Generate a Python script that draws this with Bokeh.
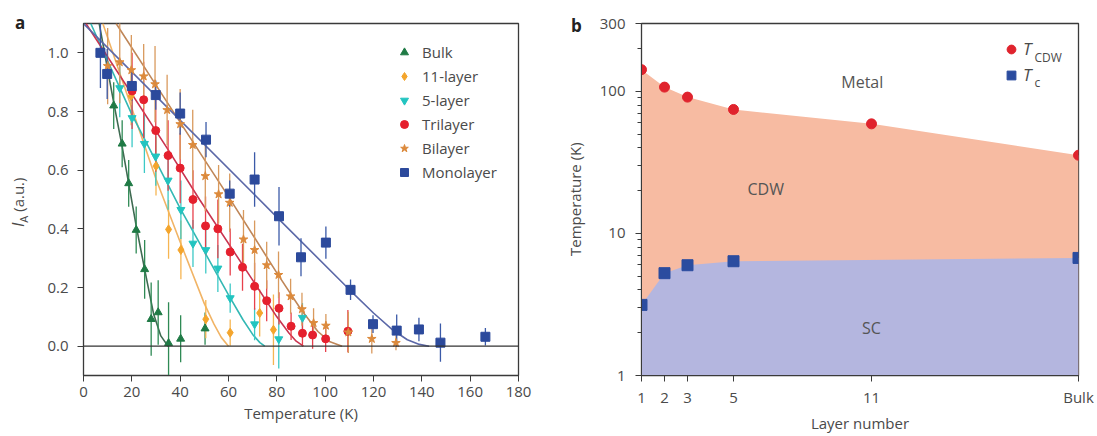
import math
from bokeh.plotting import figure
from bokeh.layouts import row
from bokeh.models import (ColumnDataSource, Span, Label, Legend, LegendItem, Div,
                          FixedTicker, Range1d, PrintfTickFormatter)
from bokeh.embed import file_html
from bokeh.resources import INLINE

# ---------------- Panel a data ----------------
bulk_T = [12.5, 16.0, 18.7, 21.8, 25.3, 28.0, 30.9, 35.2, 40.2, 50.3]
bulk_I = [0.82, 0.69, 0.555, 0.396, 0.262, 0.092, 0.115, 0.01, 0.025, 0.06]
bulk_err = [0.08, 0.08, 0.08, 0.08, 0.1, 0.125, 0.11, 0.14, 0.08, 0.055]

l11_T = [19.7, 30.0, 35.2, 40.3, 50.6, 60.7, 72.9, 78.6]
l11_I = [0.853, 0.614, 0.398, 0.328, 0.092, 0.046, 0.113, 0.056]
l11_err = [0.1, 0.1, 0.1, 0.1, 0.065, 0.045, 0.08, 0.12]

l5_T = [15.0, 20.1, 25.2, 29.9, 35.0, 40.3, 45.3, 50.6, 55.6, 60.7, 70.8, 80.8, 90.6]
l5_I = [0.88, 0.778, 0.69, 0.647, 0.565, 0.465, 0.35, 0.328, 0.265, 0.164, 0.075, 0.024, 0.097]
l5_err = [0.1, 0.1, 0.1, 0.1, 0.1, 0.1, 0.08, 0.08, 0.08, 0.05, 0.055, 0.1, 0.05]

tri_T = [20.1, 24.9, 29.9, 35.0, 40.0, 45.3, 50.5, 55.6, 60.7, 65.8, 70.8, 75.8, 80.9,
         85.9, 90.6, 94.8, 100.2, 109.4]
tri_I = [0.87, 0.84, 0.735, 0.65, 0.607, 0.5, 0.41, 0.40, 0.321, 0.269, 0.204, 0.155, 0.129,
         0.068, 0.044, 0.038, 0.025, 0.051]
tri_err = [0.13, 0.13, 0.14, 0.12, 0.12, 0.1, 0.1, 0.1, 0.08, 0.08, 0.08, 0.07, 0.055,
           0.047, 0.045, 0.047, 0.045, 0.072]

bi_T = [10.0, 15.0, 19.8, 24.9, 29.6, 34.6, 40.0, 45.2, 50.4, 55.9, 60.5, 66.2, 70.8, 75.8,
        80.7, 85.7, 90.4, 95.2, 100.3, 109.6, 119.3, 129.3]
bi_I = [0.955, 0.968, 0.941, 0.92, 0.893, 0.805, 0.757, 0.686, 0.58, 0.518, 0.489, 0.364,
        0.328, 0.276, 0.243, 0.17, 0.126, 0.079, 0.07, 0.047, 0.025, 0.011]
bi_err = [0.13, 0.14, 0.12, 0.11, 0.13, 0.12, 0.12, 0.12, 0.12, 0.1, 0.1, 0.1, 0.1, 0.08,
          0.08, 0.06, 0.056, 0.05, 0.04, 0.07, 0.05, 0.025]

mono_T = [7.0, 9.8, 20.0, 29.9, 40.0, 50.7, 60.5, 70.8, 80.9, 90.0, 100.3, 110.5, 119.8,
          129.6, 138.8, 147.7, 166.3]
mono_I = [1.0, 0.928, 0.887, 0.856, 0.793, 0.704, 0.52, 0.568, 0.443, 0.303, 0.353, 0.192,
          0.075, 0.053, 0.057, 0.012, 0.032]
mono_err = [0.12, 0.085, 0.05, 0.05, 0.072, 0.06, 0.045, 0.093, 0.1, 0.065, 0.055, 0.035,
            0.03, 0.055, 0.04, 0.065, 0.03]

# fitted curves
bulk_fit_T = [6.5, 12.5, 16, 21.8, 25.3, 29, 32, 35]
bulk_fit_I = [1.1, 0.83, 0.68, 0.41, 0.262, 0.11, 0.035, 0.0]
l11_fit_T = [8, 30, 40, 50, 54, 57, 60]
l11_fit_I = [1.1, 0.57, 0.355, 0.145, 0.075, 0.03, 0.0]
l5_fit_T = [3, 20, 40, 60, 66, 70, 73, 75]
l5_fit_I = [1.1, 0.79, 0.47, 0.175, 0.09, 0.04, 0.012, 0.0]
tri_fit_T = [1, 35, 48, 70, 80, 85, 88, 91]
tri_fit_I = [1.1, 0.67, 0.5, 0.225, 0.1, 0.045, 0.017, 0.0]
bi_fit_T = [13.5, 30, 60, 80, 90, 97, 102, 107]
bi_fit_I = [1.1, 0.89, 0.51, 0.25, 0.125, 0.05, 0.015, 0.0]
mono_fit_T = [0, 80, 110, 120, 128, 134, 139, 143]
mono_fit_I = [1.1, 0.44, 0.193, 0.113, 0.055, 0.022, 0.006, 0.0]

series_names = ["Bulk", "11-layer", "5-layer", "Trilayer", "Bilayer", "Monolayer"]

# ---------------- Panel b data ----------------
layer_labels = ["1", "2", "3", "5", "11", "Bulk"]
layer_pos = [1, 2, 3, 5, 11, 20]
tcdw = [142, 107, 91, 74.5, 59, 35.5]
tc_pos = [1, 2, 3, 5, 20]
tc = [3.14, 5.25, 5.97, 6.37, 6.72]

FONT = "Open Sans"
TXT = "#4a4a4a"
H = 436
BOTTOM = H - 23 - 352

# ================= left strip: panel letter a + y title =================
div_a = Div(width=30, height=H, margin=(0, 0, 0, 0), text=(
    f'<div style="position:relative;width:30px;height:{H}px;font-family:\'{FONT}\';color:{TXT};">'
    '<div style="position:absolute;left:15px;top:11px;font-weight:bold;font-size:17px;'
    'line-height:24px;color:#222;">a</div>'
    f'<div style="position:absolute;left:8px;top:227px;transform:rotate(-90deg);'
    'transform-origin:0 0;white-space:nowrap;font-size:15px;line-height:20px;">'
    '<i style="font-size:16px;">I</i><sub style="font-size:11px;">A</sub> (a.u.)</div>'
    '</div>'))

# ================= Panel a =================
p1 = figure(width=510, height=H, x_range=Range1d(0, 180), y_range=Range1d(-0.1, 1.1),
            output_backend="svg", toolbar_location=None,
            min_border_left=53, min_border_right=22, min_border_top=23, min_border_bottom=BOTTOM)
p1.grid.visible = False
p1.outline_line_color = "#3a3a3a"
p1.outline_line_width = 1.3

p1.add_layout(Span(location=0, dimension="width", line_color="#333333", line_width=1.4))

styles = [
    # marker, marker color, bar color, fit color, size
    (bulk_T, bulk_I, bulk_err, bulk_fit_T, bulk_fit_I, "triangle", "#1f7a45", "#2f8a55", "#3f6b52", 8),
    (l11_T, l11_I, l11_err, l11_fit_T, l11_fit_I, "diamond", "#f4a52c", "#f6b552", "#f1b466", 9),
    (l5_T, l5_I, l5_err, l5_fit_T, l5_fit_I, "inverted_triangle", "#22c4c0", "#3cc9c6", "#33b8b4", 8),
    (tri_T, tri_I, tri_err, tri_fit_T, tri_fit_I, "circle", "#e5202e", "#e8404c", "#c93450", 8),
    (bi_T, bi_I, bi_err, bi_fit_T, bi_fit_I, "star", "#dc8a3c", "#d99a5e", "#bf8658", 9),
    (mono_T, mono_I, mono_err, mono_fit_T, mono_fit_I, "square", "#2c4a9c", "#3b5aa8", "#5b68a8", 9),
]

legend_items = []
marker_specs = []
for name, (T, I, E, fT, fI, mk, mc, bc, fc, sz) in zip(series_names, styles):
    src = ColumnDataSource(dict(T=T, I=I, lo=[i - e for i, e in zip(I, E)],
                                hi=[i + e for i, e in zip(I, E)]))
    p1.line(fT, fI, line_color=fc, line_width=1.6)
    p1.segment(x0="T", y0="lo", x1="T", y1="hi", source=src, line_color=bc, line_width=1.3)
    marker_specs.append((name, src, mk, mc, sz))

for name, src, mk, mc, sz in marker_specs:
    r = p1.scatter("T", "I", source=src, marker=mk, size=sz, fill_color=mc, line_color=mc)
    legend_items.append(LegendItem(label=name, renderers=[r]))

leg1 = Legend(items=legend_items, location=(311, 192), glyph_width=20, glyph_height=22,
              spacing=2, padding=10, label_standoff=8, border_line_color=None,
              background_fill_alpha=0, label_text_font=FONT, label_text_font_size="15px",
              label_text_color=TXT)
p1.add_layout(leg1)

p1.xaxis.ticker = FixedTicker(ticks=list(range(0, 181, 20)))
p1.yaxis.ticker = FixedTicker(ticks=[0.0, 0.2, 0.4, 0.6, 0.8, 1.0])
p1.yaxis.formatter = PrintfTickFormatter(format="%.1f")
p1.xaxis.axis_label = "Temperature (K)"
for ax in (p1.xaxis[0], p1.yaxis[0]):
    ax.major_tick_in = 0
    ax.major_tick_out = 6
    ax.minor_tick_in = 0
    ax.minor_tick_out = 0
    ax.axis_line_color = "#3a3a3a"
    ax.major_tick_line_color = "#3a3a3a"
    ax.major_label_text_font = FONT
    ax.major_label_text_font_size = "15px"
    ax.major_label_text_color = TXT
    ax.axis_label_text_font = FONT
    ax.axis_label_text_font_size = "15px"
    ax.axis_label_text_font_style = "normal"
    ax.axis_label_text_color = TXT
p1.xaxis.major_label_standoff = 5
p1.xaxis.axis_label_standoff = 3
p1.yaxis.major_label_standoff = 9

# ================= middle strip: panel letter b + y title of b =================
div_b = Div(width=55, height=H, margin=(0, 0, 0, 0), text=(
    f'<div style="position:relative;width:55px;height:{H}px;font-family:\'{FONT}\';color:{TXT};">'
    '<div style="position:absolute;left:31px;top:14px;font-weight:bold;font-size:17px;'
    'line-height:24px;color:#222;">b</div>'
    '<div style="position:absolute;left:25px;top:256px;transform:rotate(-90deg);'
    'transform-origin:0 0;white-space:nowrap;font-size:15px;line-height:20px;">'
    'Temperature (K)</div>'
    '</div>'))

# ================= Panel b =================
p2 = figure(width=499, height=H, x_range=Range1d(1, 20), y_range=Range1d(1, 300),
            y_axis_type="log", output_backend="svg", toolbar_location=None,
            min_border_left=46, min_border_right=16, min_border_top=23, min_border_bottom=BOTTOM)
p2.grid.visible = False
p2.outline_line_color = "#3a3a3a"
p2.outline_line_width = 1.3

p2.varea(x=layer_pos, y1=[1] * len(layer_pos), y2=tcdw, fill_color="#f7bba2")
p2.varea(x=tc_pos, y1=[1] * len(tc_pos), y2=tc, fill_color="#b4b6df")

r_cdw = p2.scatter(layer_pos, tcdw, marker="circle", size=10, fill_color="#e0232d", line_color="#e0232d")
r_tc = p2.scatter(tc_pos, tc, marker="square", size=11, fill_color="#2b4c9f", line_color="#2b4c9f")

leg2 = Legend(items=[LegendItem(label="T", renderers=[r_cdw]), LegendItem(label="T", renderers=[r_tc])],
              location=(359, 289), glyph_width=22, glyph_height=22, spacing=3, padding=10,
              label_standoff=1, border_line_color=None, background_fill_alpha=0,
              label_text_font=FONT, label_text_font_size="17px", label_text_font_style="italic",
              label_text_color=TXT)
p2.add_layout(leg2)
p2.add_layout(Label(x=393, y=318, x_units="screen", y_units="screen", text="CDW",
                    text_font=FONT, text_font_size="12px", text_color=TXT,
                    text_baseline="alphabetic", text_align="left"))
p2.add_layout(Label(x=393, y=293, x_units="screen", y_units="screen", text="c",
                    text_font=FONT, text_font_size="12px", text_color=TXT,
                    text_baseline="alphabetic", text_align="left"))

for txt, xx, yy in [("Metal", 10.6, 116), ("CDW", 6.4, 20.6), ("SC", 11.0, 2.17)]:
    p2.add_layout(Label(x=xx, y=yy, text=txt, text_font=FONT, text_font_size="16px",
                        text_color="#555555", text_align="center", text_baseline="middle"))

p2.xaxis.ticker = FixedTicker(ticks=layer_pos)
p2.xaxis.major_label_overrides = {pos: lab for pos, lab in zip(layer_pos, layer_labels)}
p2.yaxis.ticker = FixedTicker(ticks=[1, 10, 100, 300],
                              minor_ticks=[2, 3, 4, 5, 6, 7, 8, 9, 20, 30, 40, 50, 60, 70, 80, 90, 200])
p2.yaxis.major_label_overrides = {1: "1", 10: "10", 100: "100", 300: "300"}
p2.xaxis.axis_label = "Layer number"
for ax in (p2.xaxis[0], p2.yaxis[0]):
    ax.major_tick_in = 0
    ax.major_tick_out = 6
    ax.minor_tick_in = 0
    ax.minor_tick_out = 4
    ax.axis_line_color = "#3a3a3a"
    ax.major_tick_line_color = "#3a3a3a"
    ax.minor_tick_line_color = "#3a3a3a"
    ax.major_label_text_font = FONT
    ax.major_label_text_font_size = "15px"
    ax.major_label_text_color = TXT
    ax.axis_label_text_font = FONT
    ax.axis_label_text_font_size = "15px"
    ax.axis_label_text_font_style = "normal"
    ax.axis_label_text_color = TXT
p2.xaxis.major_label_standoff = 5
p2.xaxis.axis_label_standoff = 3
p2.yaxis.major_label_standoff = 10

layout = row(div_a, p1, div_b, p2)
open("out.html", "w").write(file_html(layout, INLINE))
